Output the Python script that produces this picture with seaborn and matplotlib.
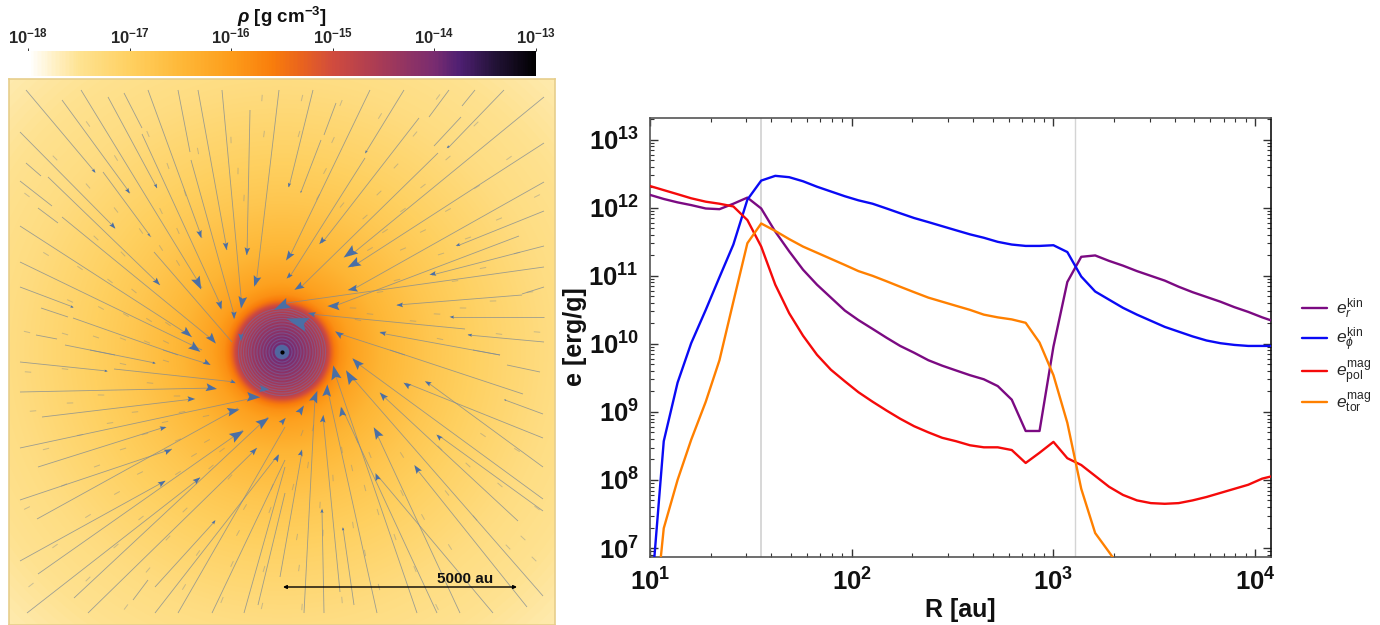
import numpy as np
import pandas as pd
import matplotlib
matplotlib.use("Agg")
import matplotlib.pyplot as plt
import seaborn as sns
from matplotlib.collections import LineCollection, PolyCollection
from matplotlib.colors import LinearSegmentedColormap, Normalize
from matplotlib.ticker import LogLocator, NullFormatter, FixedLocator, FixedFormatter

# radius grid of the profiles [au]
r_grid = [10.0, 11.7, 13.7, 16.0, 18.9, 22.1, 25.9, 30.4, 35.6, 41.8, 49.0, 57.4, 67.3, 78.9, 92.5, 108,
          127, 149, 174, 204, 240, 281, 329, 386, 452, 530, 622, 729, 854, 1001, 1173, 1375, 1612, 1889,
          2215, 2597, 3044, 3568, 4182, 4903, 5748, 6738, 7898, 9259, 10854, 12725]

# log10 of the energies [erg/g]
log_e_r_kin = [12.19, 12.13, 12.08, 12.04, 11.99, 11.98, 12.06, 12.15, 11.99, 11.65, 11.36, 11.09, 10.87, 10.68,
               10.49, 10.35, 10.22, 10.09, 9.97, 9.87, 9.76, 9.68, 9.61, 9.54, 9.48, 9.38, 9.18, 8.72, 8.72,
               9.96, 10.91, 11.28, 11.30, 11.22, 11.15, 11.07, 11.00, 10.93, 10.84, 10.76, 10.69, 10.62,
               10.54, 10.47, 10.39, 10.32]
log_e_phi_kin = [6.07, 8.57, 9.43, 10.01, 10.50, 10.98, 11.46, 12.12, 12.40, 12.47, 12.45, 12.39, 12.31, 12.24,
                 12.17, 12.11, 12.06, 11.99, 11.92, 11.85, 11.79, 11.73, 11.67, 11.61, 11.56, 11.50, 11.46,
                 11.44, 11.44, 11.45, 11.35, 10.99, 10.77, 10.65, 10.53, 10.43, 10.34, 10.25, 10.18, 10.11,
                 10.05, 10.01, 9.985, 9.97, 9.97, 9.97]
log_e_pol_mag = [12.32, 12.26, 12.20, 12.14, 12.09, 12.06, 12.02, 11.82, 11.43, 10.87, 10.45, 10.12, 9.84, 9.62,
                 9.45, 9.29, 9.15, 9.02, 8.90, 8.79, 8.70, 8.62, 8.57, 8.51, 8.48, 8.48, 8.44, 8.25, 8.40, 8.56,
                 8.32, 8.22, 8.06, 7.90, 7.78, 7.70, 7.66, 7.65, 7.66, 7.70, 7.75, 7.81, 7.87, 7.93, 8.02, 8.07]
log_e_tor_mag = [5.3, 7.29, 8.00, 8.59, 9.15, 9.76, 10.62, 11.48, 11.77, 11.66, 11.54, 11.43, 11.34, 11.25, 11.16,
                 11.07, 11.00, 10.92, 10.84, 10.76, 10.68, 10.62, 10.56, 10.50, 10.43, 10.39, 10.36, 10.31,
                 10.02, 9.54, 8.84, 7.87, 7.22, 6.94, 6.65]

series_names = [r"$e_{r}^{\mathrm{kin}}$", r"$e_{\phi}^{\mathrm{kin}}$",
                r"$e_{\mathrm{pol}}^{\mathrm{mag}}$", r"$e_{\mathrm{tor}}^{\mathrm{mag}}$"]
series_colors = ["#7B0A82", "#0A0AF5", "#F50A0A", "#FF8000"]
r_marks = [35.6, 1286]

# density map: radial profile, colour scale (map pixels, log10 rho)
profile_r = [0, 10, 30, 44, 47, 50, 53, 58, 70, 100, 150, 200, 270, 390]
profile_rho = [-13.8, -14.0, -14.4, -14.75, -15.0, -15.35, -15.6, -15.85, -16.1, -16.45, -16.8, -17.05, -17.35, -17.65]
cbar_levels = [-18, -17.75, -17.5, -17, -16.5, -16, -15.6, -15.3, -15, -14.5, -14, -13.75, -13.4, -13]
cbar_colors = ["#FFFFFF", "#FFF0C4", "#FEE290", "#FFD060", "#FEB838", "#FD9C1A", "#F97D0B", "#E8621F", "#D04B3E",
               "#A53A58", "#792C70", "#4E1F72", "#221236", "#000000"]
ring_r = [7, 10, 13, 16, 19, 22, 25, 28, 31, 33.5, 36, 38.5, 41, 43.5]

# streamlines: outer end -> inner end, map pixels
spokes = [
    (26, 90, 95, 172), (62, 100, 130, 193), (81, 90, 202, 288), (108, 97, 157, 188), (124, 93, 142, 128),
    (148, 90, 202, 238), (142, 134, 222, 308), (178, 90, 190, 152), (191, 160, 235, 318), (198, 90, 227, 250),
    (222, 90, 242, 307), (250, 110, 247, 255), (279, 90, 256, 285), (20, 132, 115, 228), (103, 172, 151, 237),
    (26, 163, 41, 176), (20, 181, 52, 206), (38, 208, 58, 223), (48, 177, 160, 285), (62, 217, 215, 342),
    (154, 252, 232, 342), (20, 226, 192, 337), (20, 262, 202, 350), (20, 287, 73, 307), (41, 308, 68, 317),
    (73, 318, 178, 355), (36, 335, 57, 339), (65, 345, 115, 355),
    (313, 90, 289, 187), (336, 103, 324, 135), (321, 140, 301, 192), (370, 90, 289, 258), (404, 90, 366, 152),
    (365, 158, 289, 278), (419, 118, 322, 243), (438, 153, 300, 288), (449, 90, 429, 117), (475, 90, 462, 106),
    (461, 117, 434, 146), (504, 90, 448, 148), (544, 97, 351, 255), (544, 143, 352, 267), (544, 182, 352, 290),
    (544, 211, 457, 246), (519, 236, 332, 307), (544, 246, 432, 275), (544, 267, 287, 303), (544, 287, 522, 294),
    (522, 295, 397, 305), (544, 317, 451, 317), (465, 329, 310, 314), (544, 342, 468, 335), (500, 355, 380, 333),
    (405, 355, 337, 333),
    (90, 350, 155, 363), (163, 350, 208, 364), (20, 362, 107, 371), (114, 369, 235, 382), (20, 392, 215, 388),
    (42, 417, 193, 399), (20, 448, 258, 397), (38, 467, 165, 427), (20, 500, 172, 449), (37, 519, 238, 408),
    (20, 561, 165, 481), (38, 574, 243, 430), (27, 613, 200, 478), (74, 598, 268, 417), (88, 613, 257, 448),
    (133, 600, 148, 580), (155, 587, 215, 521), (155, 613, 278, 455), (178, 613, 285, 427), (212, 613, 285, 460),
    (244, 613, 285, 467), (258, 605, 285, 493),
    (280, 577, 302, 452), (304, 613, 315, 398), (324, 613, 322, 510), (340, 592, 323, 417), (354, 605, 343, 528),
    (377, 613, 327, 387), (417, 613, 333, 368), (437, 613, 342, 408), (460, 613, 375, 430), (493, 613, 377, 475),
    (527, 607, 415, 467), (543, 596, 350, 375), (518, 521, 380, 393), (543, 511, 438, 435), (543, 499, 353, 360),
    (543, 467, 427, 382), (543, 438, 406, 383), (543, 414, 505, 400), (523, 394, 390, 350), (500, 355, 473, 350),
    (540, 372, 507, 365),
]

# arrow heads: x, y, length (map pixels)
arrows = [
    (94, 171, 4), (128, 191, 5), (156, 186, 4), (113, 226, 6), (149, 235, 3), (200, 234, 7), (226, 246, 7),
    (247, 251, 7), (256, 281, 10), (242, 302, 11), (234, 315, 7), (220, 305, 8), (198, 283, 12), (157, 282, 7),
    (187, 333, 10), (212, 339, 10), (195, 348, 11), (241, 337, 7), (72, 307, 3),
    (289, 185, 4), (301, 192, 2), (366, 152, 3), (289, 256, 9), (289, 276, 6), (322, 241, 7), (350, 253, 13),
    (354, 264, 12), (299, 287, 9), (353, 289, 9), (334, 306, 11), (400, 305, 6), (433, 274, 6), (458, 245, 4),
    (448, 147, 3), (452, 317, 4), (383, 333, 6), (470, 335, 4), (339, 334, 8), (312, 314, 7),
    (154, 363, 3), (207, 363, 7), (106, 371, 3), (233, 382, 5), (211, 388, 10), (253, 397, 12), (191, 399, 7),
    (264, 389, 9), (233, 411, 11), (163, 428, 6), (168, 451, 7), (237, 435, 13), (263, 422, 12), (254, 451, 7),
    (277, 458, 7), (162, 483, 7), (197, 480, 7), (214, 522, 4), (283, 421, 7),
    (301, 410, 9), (315, 397, 11), (327, 391, 11), (335, 373, 13), (350, 377, 13), (357, 363, 11), (342, 412, 9),
    (323, 419, 7), (301, 453, 6), (322, 511, 4), (343, 529, 3), (377, 433, 11), (377, 477, 7), (417, 469, 8),
    (383, 396, 8), (407, 385, 7), (428, 383, 6), (439, 437, 6), (505, 400, 2),
]
# the two big heads on the disc, with their own direction
big_arrows = [(298, 322, 20, -1.0, -0.3), (282, 306, 15, -1.0, 0.5)]

# short velocity dashes, centres in map pixels
dashes = [
    (88, 124), (55, 158), (116, 158), (88, 186), (148, 134), (168, 166), (185, 193), (198, 151), (231, 140),
    (238, 171), (244, 198), (264, 134), (262, 98), (116, 210), (141, 231), (96, 238), (46, 254), (80, 268),
    (110, 281), (123, 254), (161, 211), (178, 231), (161, 248), (178, 263), (134, 291), (70, 301), (101, 308),
    (149, 320), (126, 315), (168, 324), (65, 334), (96, 337), (123, 339), (147, 342), (166, 342), (27, 332), (27, 195),
    (302, 98), (341, 103), (380, 116), (415, 134), (438, 97), (476, 124), (448, 158), (396, 166), (509, 158),
    (477, 187), (379, 193), (423, 186), (403, 210), (537, 196), (499, 219), (448, 210), (423, 231), (385, 231),
    (365, 217), (468, 238), (441, 254), (517, 253), (403, 249), (483, 268), (370, 249), (342, 205), (318, 197),
    (325, 171), (333, 140), (299, 134), (455, 281), (493, 301), (530, 292), (463, 308), (437, 314), (537, 332),
    (499, 334), (440, 339), (397, 280), (380, 292), (353, 308), (370, 314), (358, 320), (413, 321),
    (28, 372), (65, 369), (123, 364), (166, 361), (150, 383), (177, 396), (101, 395), (70, 403), (33, 411),
    (135, 412), (182, 412), (206, 416), (110, 423), (80, 435), (46, 449), (123, 449), (145, 434), (165, 422),
    (178, 440), (194, 455), (97, 466), (140, 473), (64, 485), (117, 493), (178, 473), (211, 467), (207, 441),
    (27, 508), (88, 516), (141, 518), (185, 510), (230, 477), (222, 450), (245, 507), (270, 510), (272, 487),
    (55, 546), (116, 546), (168, 538), (198, 553), (238, 533), (232, 564), (264, 569), (148, 570), (31, 585),
    (88, 579), (184, 587), (222, 600), (126, 607), (262, 606),
    (313, 428), (302, 433), (342, 450), (357, 440), (370, 455), (402, 455), (440, 448), (468, 465), (483, 435),
    (517, 450), (293, 487), (308, 465), (333, 478), (352, 468), (365, 488), (402, 493), (447, 493), (500, 485),
    (378, 512), (423, 517), (475, 518), (537, 508), (297, 537), (323, 533), (353, 525), (395, 537), (450, 547),
    (508, 547), (523, 538), (534, 559), (299, 568), (365, 553), (415, 569), (379, 587), (342, 600), (302, 607),
    (437, 607), (320, 505),
]

W, H = 1380, 625
CX, CY = 282, 352
AU_PER_PX = 5000 / 234


def to_au(px, py):
    return (np.asarray(px, dtype=float) - CX) * AU_PER_PX, (np.asarray(py, dtype=float) - CY) * AU_PER_PX


def axes_px(fig, left, top, right, bottom):
    return fig.add_axes([left / W, 1 - bottom / H, (right - left) / W, (bottom - top) / H])


def heading(x, y):
    # direction of the flow at a point: inwards, turning more close to the disc
    dx, dy = CX - x, CY - y
    r = np.hypot(dx, dy)
    turn = np.radians(np.interp(r, [45, 70, 120, 300], [70, 40, 20, 5]))
    ux, uy = dx / r, dy / r
    return ux * np.cos(turn) - uy * np.sin(turn), ux * np.sin(turn) + uy * np.cos(turn)


def head(x, y, size, ux, uy, width=0.72):
    # stealth shaped arrow head around its centre
    nx, ny = -uy, ux
    s = size * AU_PER_PX * 1.1
    w = s * width / 2
    x0, y0 = to_au(x, y)
    return [(x0 + ux * s * 0.55, y0 + uy * s * 0.55),
            (x0 - ux * s * 0.45 + nx * w, y0 - uy * s * 0.45 + ny * w),
            (x0 - ux * s * 0.28, y0 - uy * s * 0.28),
            (x0 - ux * s * 0.45 - nx * w, y0 - uy * s * 0.45 - ny * w)]


sns.set_theme(style="ticks")
plt.rcParams["font.family"] = ["Liberation Sans", "DejaVu Sans"]
plt.rcParams["mathtext.fontset"] = "custom"
plt.rcParams["mathtext.rm"] = "Liberation Sans"
plt.rcParams["mathtext.it"] = "Liberation Sans:italic"
plt.rcParams["mathtext.bf"] = "Liberation Sans:bold"
plt.rcParams["mathtext.bfit"] = "Liberation Sans:italic:bold"

fig = plt.figure(figsize=(W / 100, H / 100), dpi=100, facecolor="white")
cmap = LinearSegmentedColormap.from_list(
    "rho", [((l + 18) / 5, c) for l, c in zip(cbar_levels, cbar_colors)])
norm = Normalize(-18, -13)

# colour bar
cax = axes_px(fig, 28, 51, 536, 76)
edges = np.logspace(-18, -13, 400)
cax.pcolormesh(edges, [0, 1], np.log10(edges[:-1])[None, :], cmap=cmap, norm=norm, shading="flat")
cax.set_xscale("log")
cax.set_xlim(1e-18, 1e-13)
cax.set_yticks([])
cax.xaxis.tick_top()
cax.xaxis.set_major_locator(FixedLocator([10.0 ** k for k in range(-18, -12)]))
cax.xaxis.set_major_formatter(FixedFormatter([rf"$\mathbf{{10^{{{k}}}}}$" for k in range(-18, -12)]))
cax.xaxis.set_minor_locator(FixedLocator([]))
cax.tick_params(axis="x", length=2, width=0.7, pad=1, labelsize=12, color="#333333")
for s in cax.spines.values():
    s.set_visible(False)
fig.text(282 / W, 1 - 17 / H, r"$\boldsymbol{\rho}$ [g cm$\mathbf{^{-3}}$]", ha="center", va="center",
         fontsize=13.5, fontweight="bold", color="#111111")

# density map
mapx = axes_px(fig, 9, 79, 555, 625)
xe, ye = to_au([9, 555], [79, 625])
gx, gy = np.meshgrid(np.linspace(xe[0], xe[1], 1092), np.linspace(ye[0], ye[1], 1092))
rho = np.interp(np.hypot(gx, gy) / AU_PER_PX, profile_r, profile_rho)
mapx.imshow(rho, extent=[xe[0], xe[1], ye[1], ye[0]], cmap=cmap, norm=norm, interpolation="bilinear", zorder=1)
for rr in ring_r:
    mapx.add_patch(plt.Circle((0, 0), rr * AU_PER_PX, fill=False, ec="#6C74B8", alpha=0.42, lw=0.8, zorder=2))
mapx.add_patch(plt.Circle((0, 0), 7 * AU_PER_PX, fc="#4F6EA5", ec="none", alpha=0.9, zorder=2))
mapx.plot([0], [0], "o", ms=2, color="black", zorder=6)

segs = []
for x0, y0, x1, y1 in spokes:
    ax0, ay0 = to_au(x0, y0)
    ax1, ay1 = to_au(x1, y1)
    segs.append([(ax0, ay0), (ax1, ay1)])
mapx.add_collection(LineCollection(segs, colors="#7C8894", alpha=0.75, linewidths=0.6, zorder=3))

dash_segs = []
for x, y in dashes:
    ux, uy = heading(x, y)
    ax0, ay0 = to_au(x, y)
    half = 3.2 * AU_PER_PX
    dash_segs.append([(ax0 - ux * half, ay0 - uy * half), (ax0 + ux * half, ay0 + uy * half)])
mapx.add_collection(LineCollection(dash_segs, colors="#7C8894", alpha=0.42, linewidths=0.7, zorder=3))

polys = [head(x, y, s, *heading(x, y)) for x, y, s in arrows]
for x, y, s, ux, uy in big_arrows:
    n = np.hypot(ux, uy)
    polys.append(head(x, y, s, ux / n, uy / n, width=0.65))
mapx.add_collection(PolyCollection(polys, facecolors="#4A6FA5", edgecolors="none", zorder=5))

bx0, by = to_au(283, 587)
bx1, _ = to_au(517, 587)
mapx.annotate("", xy=(bx0, by), xytext=(bx1, by),
              arrowprops=dict(arrowstyle="<|-|>", mutation_scale=5, lw=1.0, color="black", shrinkA=0, shrinkB=0), zorder=7)
tx, ty = to_au(465, 579)
mapx.text(tx, ty, "5000 au", ha="center", va="center", fontsize=11, fontweight="bold", color="#111111", zorder=7)
mapx.set_xlim(xe[0], xe[1])
mapx.set_ylim(ye[1], ye[0])
mapx.set_xticks([])
mapx.set_yticks([])
for s in mapx.spines.values():
    s.set_color("#E6CE8C")
    s.set_linewidth(1.2)

# energy profiles
ax = axes_px(fig, 650, 118, 1271, 557)
logs = [log_e_r_kin, log_e_phi_kin, log_e_pol_mag, log_e_tor_mag]
df = pd.concat([pd.DataFrame({"R": r_grid[:len(v)], "e": 10.0 ** np.array(v), "series": name})
                for v, name in zip(logs, series_names)], ignore_index=True)
for rm, lw in zip(r_marks, [1.3, 1.0]):
    ax.axvline(rm, color="#D4D4D4", lw=lw, zorder=1)
sns.lineplot(data=df, x="R", y="e", hue="series", hue_order=series_names, palette=series_colors,
             estimator=None, sort=False, lw=1.7, ax=ax, zorder=3)
ax.set_xscale("log")
ax.set_yscale("log")
ax.set_xlim(10, 12000)
ax.set_ylim(10 ** 6.868, 10 ** 13.32)

x_majors = [10.0 ** k for k in range(1, 5)]
y_majors = [10.0 ** k for k in range(7, 14)]
ax.xaxis.set_major_locator(FixedLocator(x_majors))
ax.xaxis.set_major_formatter(FixedFormatter([rf"$\mathbf{{10^{{{k}}}}}$" for k in range(1, 5)]))
ax.yaxis.set_major_locator(FixedLocator(y_majors))
ax.yaxis.set_major_formatter(FixedFormatter([rf"$\mathbf{{10^{{{k}}}}}$" for k in range(7, 14)]))
for axis in (ax.xaxis, ax.yaxis):
    axis.set_minor_locator(LogLocator(base=10, subs=np.arange(2, 10), numticks=20))
    axis.set_minor_formatter(NullFormatter())
ax.tick_params(which="major", direction="in", length=6, width=1.0, top=True, right=True, labelsize=18.5,
               color="#333333", labelcolor="#111111", pad=8)
ax.tick_params(which="minor", direction="in", length=3, width=0.8, top=True, right=True, color="#333333")
for name, s in ax.spines.items():
    s.set_visible(True)
    s.set_linewidth(1.2)
    s.set_color("#111111" if name == "right" else "#555555")
ax.set_xlabel("")
ax.set_ylabel("")
fig.text(960 / W, 1 - 610 / H, "R [au]", ha="center", va="center", fontsize=18, fontweight="bold", color="#111111")
fig.text(575 / W, 1 - 337 / H, "e [erg/g]", ha="center", va="center", rotation=90, fontsize=18, fontweight="bold",
         color="#111111")

leg = ax.legend(loc="center left", bbox_to_anchor=(1302 / W, 1 - 356 / H), bbox_transform=fig.transFigure,
                frameon=False, fontsize=12.5, handlelength=1.44, handletextpad=0.5, labelspacing=0.26,
                borderaxespad=0, borderpad=0)

fig.savefig("out.png", dpi=100, facecolor="white")
